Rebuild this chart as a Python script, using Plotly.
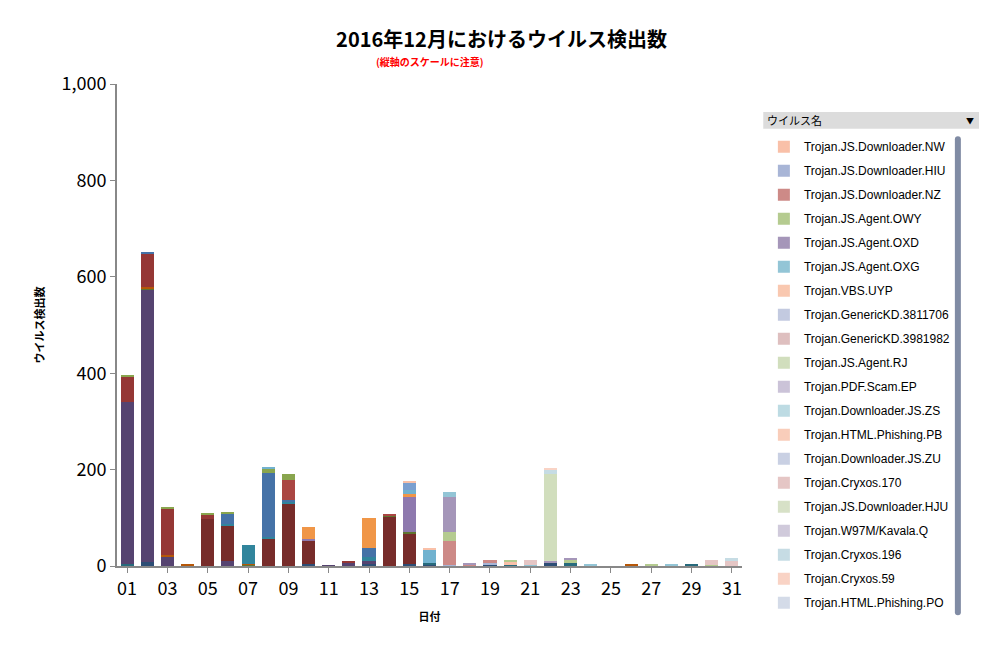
import plotly.graph_objects as go

days = ["%02d" % d for d in range(1, 32)]
tick_labels = ["%02d" % d for d in range(1, 32, 2)]


def series(points):
    vals = [0] * 31
    for d, v in points.items():
        vals[d - 1] = v
    return vals


# dark series (not listed in legend)
navy = series({2: 8, 10: 5, 13: 5, 15: 5, 16: 4, 19: 2, 22: 8, 27: 2})
teal_dk = series({1: 5, 16: 2, 20: 2, 23: 7, 26: 1, 28: 2, 29: 3})
purple = series({1: 335, 2: 565, 3: 20, 6: 10, 11: 2, 12: 7, 13: 5})
maroon = series({4: 2, 5: 97, 6: 73, 8: 57, 9: 130, 10: 47, 14: 103, 15: 62})
green_dk = series({2: 3, 7: 3, 14: 2, 15: 3})
orange_dk = series({2: 2, 3: 3, 4: 3, 7: 2, 26: 2})
red = series({1: 53, 2: 70, 3: 97, 5: 8, 6: 2, 12: 2})
teal = series({6: 3, 7: 38, 8: 3, 9: 3, 13: 8})
blue = series({2: 3, 6: 20, 8: 133, 9: 3, 10: 1, 13: 19})
red2 = series({9: 42, 14: 3})
green = series({1: 3, 3: 3, 5: 6, 6: 2, 8: 10, 9: 13})
lavender = series({10: 3, 15: 75})
orange = series({10: 24, 13: 62, 15: 4})
sky = series({8: 3, 15: 8, 16: 28})
blue2 = series({15: 16})

# legend series, bottom-to-top
legend_names = [
    "Trojan.JS.Downloader.NW", "Trojan.JS.Downloader.HIU", "Trojan.JS.Downloader.NZ",
    "Trojan.JS.Agent.OWY", "Trojan.JS.Agent.OXD", "Trojan.JS.Agent.OXG",
    "Trojan.VBS.UYP", "Trojan.GenericKD.3811706", "Trojan.GenericKD.3981982",
    "Trojan.JS.Agent.RJ", "Trojan.PDF.Scam.EP", "Trojan.Downloader.JS.ZS",
    "Trojan.HTML.Phishing.PB", "Trojan.Downloader.JS.ZU", "Trojan.Cryxos.170",
    "Trojan.JS.Downloader.HJU", "Trojan.W97M/Kavala.Q", "Trojan.Cryxos.196",
    "Trojan.Cryxos.59", "Trojan.HTML.Phishing.PO",
]
legend_values = [
    series({15: 3, 16: 2, 20: 8}),
    series({17: 2, 19: 6}),
    series({17: 50, 18: 3, 19: 4}),
    series({17: 18, 20: 3, 23: 6, 27: 2, 30: 2}),
    series({17: 74, 18: 4, 22: 3, 23: 3}),
    series({17: 10, 21: 3, 24: 3, 28: 2}),
    series({}),
    series({}),
    series({}),
    series({22: 180}),
    series({}),
    series({}),
    series({}),
    series({}),
    series({21: 10, 30: 10, 31: 10}),
    series({}),
    series({}),
    series({22: 10, 31: 7}),
    series({22: 2}),
    series({}),
]
legend_colors = [
    "#F9C0A8", "#A8B5D6", "#CD8A87", "#B5CB90", "#A596B9", "#93C5D6",
    "#F9C8B0", "#C3CAE0", "#DEBFBF", "#D1DEBD", "#CBC3D8", "#BDDBE3",
    "#F9CDBA", "#C9D0E3", "#E5C6C5", "#D7E1C7", "#D0CADB", "#C6DCE4",
    "#F9D3C5", "#D4DBE8",
]

fig = go.Figure()
dark = [
    (navy, "#2C4D75"), (teal_dk, "#276A7C"), (purple, "#554370"), (maroon, "#772C2A"),
    (green_dk, "#5F7530"), (orange_dk, "#B65708"), (red, "#953735"), (teal, "#31859C"),
    (blue, "#4572A7"), (red2, "#AA4643"), (green, "#89A54E"), (lavender, "#8E79AE"),
    (orange, "#F09647"), (sky, "#71B2CF"), (blue2, "#7B9FCF"),
]
for vals, col in dark:
    fig.add_bar(x=days, y=vals, marker_color=col, showlegend=False, marker_line_width=0)
for i, (name, vals, col) in enumerate(zip(legend_names, legend_values, legend_colors)):
    fig.add_bar(x=days, y=vals, name=name, marker_color=col, marker_line_width=0,
                legendgroup="g%d" % i)

fig.update_layout(
    width=987, height=648, barmode="stack", bargap=0.35,
    plot_bgcolor="white", paper_bgcolor="white",
    margin=dict(l=109, r=253, t=76, b=90),
    font=dict(family="Noto Sans CJK JP", color="black"),
    title=dict(text="<b>2016年12月におけるウイルス検出数</b>", x=0.5, xanchor="center",
               y=0.951, yanchor="middle", font=dict(size=20)),
    legend=dict(traceorder="reversed+grouped", tracegroupgap=5, x=1.035, y=0.9,
                yanchor="top", font=dict(family="Liberation Sans", size=12), itemwidth=30),
    annotations=[
        dict(text="<b>(縦軸のスケールに注意)</b>", x=0.5, y=1.046, xref="paper", yref="paper",
             xanchor="center", yanchor="middle", showarrow=False,
             font=dict(size=10, color="red")),
        dict(text="ウイルス名", x=1.036, y=0.925, xref="paper", yref="paper",
             xanchor="left", yanchor="middle", showarrow=False, font=dict(size=11)),
        dict(text="▼", x=1.375, y=0.925, xref="paper", yref="paper",
             xanchor="right", yanchor="middle", showarrow=False, font=dict(size=8)),
    ],
    shapes=[dict(type="rect", xref="paper", yref="paper", x0=1.034, x1=1.381, y0=0.907,
                 y1=0.942, fillcolor="#DCDCDC", line_width=0, layer="below")],
)
fig.update_xaxes(tickvals=tick_labels, ticktext=tick_labels, tickfont=dict(size=18),
                 showline=True, linecolor="#888", linewidth=2, ticks="outside",
                 tickcolor="#888", title=dict(text="<b>日付</b>", font=dict(size=11)))
fig.update_yaxes(range=[0, 1000], dtick=200, tickformat=",", tickfont=dict(size=18),
                 showline=True, linecolor="#888", linewidth=2, ticks="outside",
                 tickcolor="#888", showgrid=False, zeroline=False,
                 title=dict(text="<b>ウイルス検出数</b>", font=dict(size=11)))

fig.write_html("out.html")
